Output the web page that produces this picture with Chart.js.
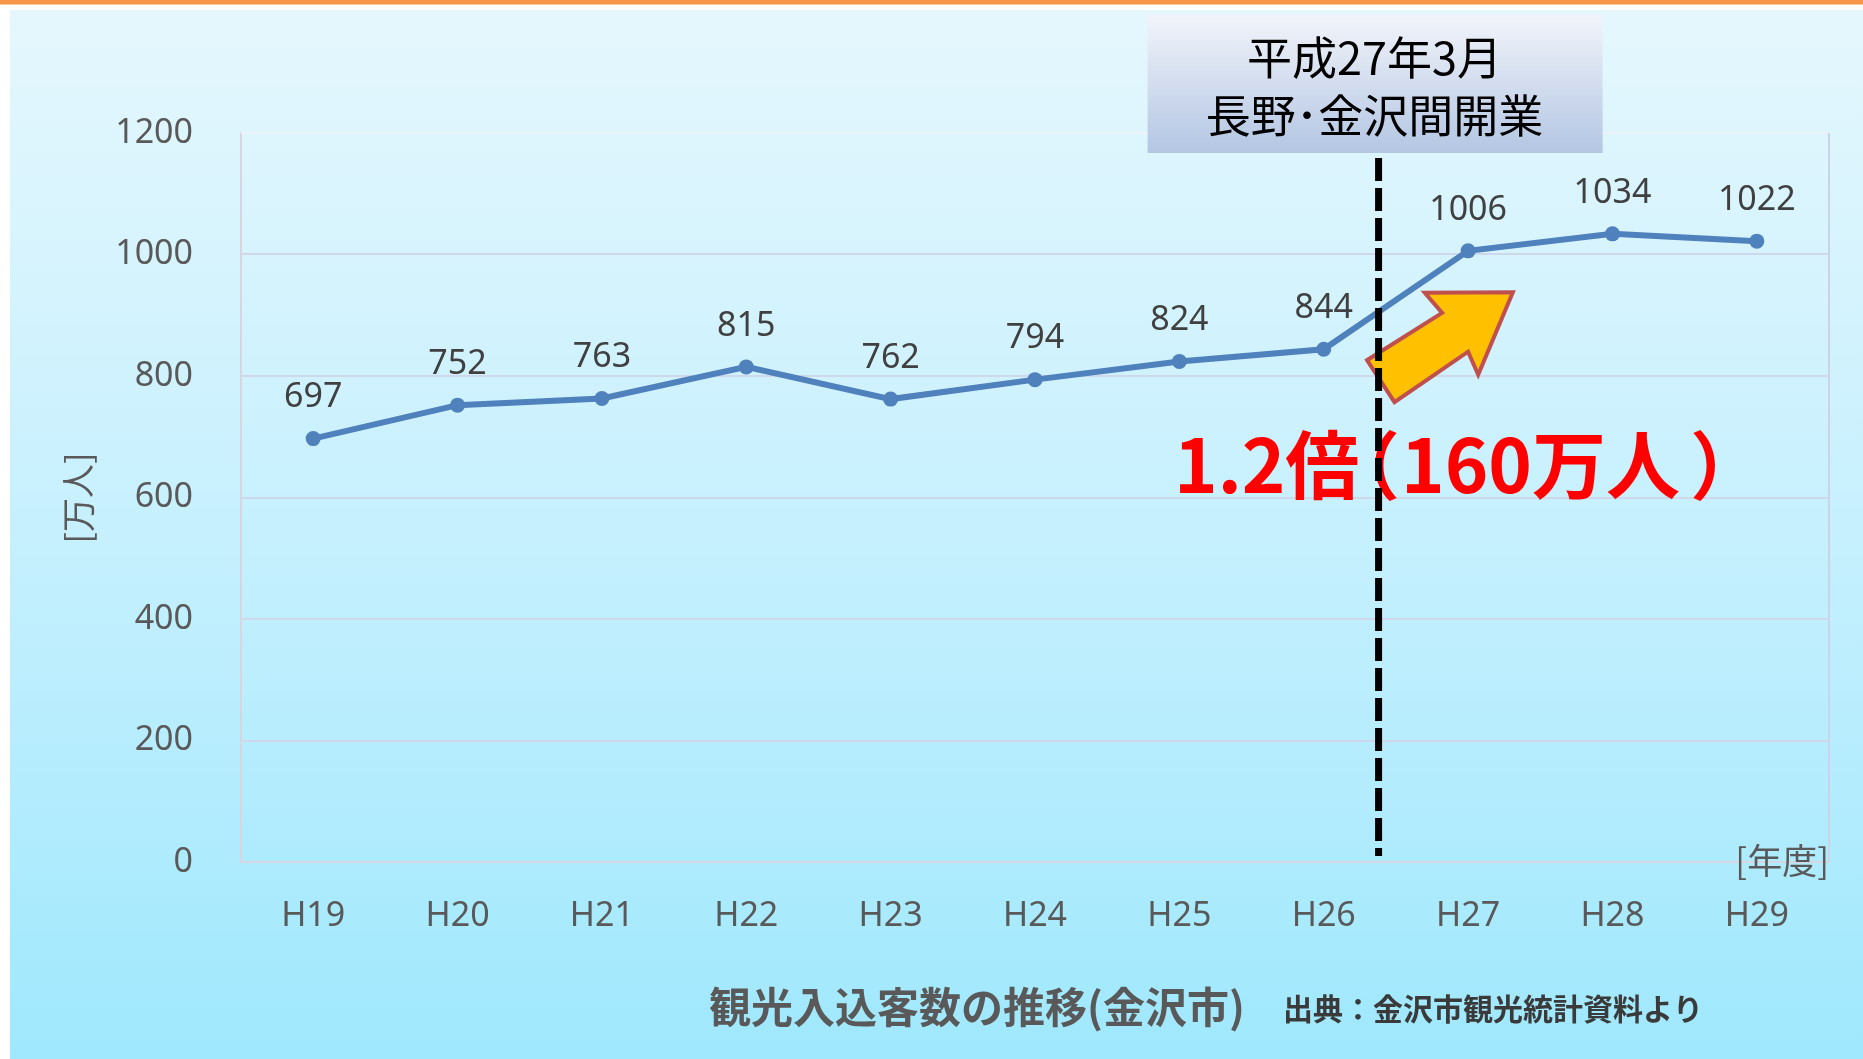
<!DOCTYPE html>
<html lang="ja">
<head>
<meta charset="utf-8">
<title>観光入込客数の推移（金沢市）</title>
<script src="https://cdn.jsdelivr.net/npm/chart.js@4.4.1/dist/chart.umd.min.js"></script>
<style>
    html, body { margin: 0; padding: 0; overflow: hidden; background: #fff; }
    .chart-wrap { position: relative; width: 1863px; height: 1059px; }
</style>
</head>
<body>
<div class="chart-wrap"><canvas id="visitorsChart"></canvas></div>
<script>
    // 年度 (x categories)
    const years = ['H19', 'H20', 'H21', 'H22', 'H23', 'H24', 'H25', 'H26', 'H27', 'H28', 'H29'];
    // 観光入込客数 [万人]
    const visitors = [697, 752, 763, 815, 762, 794, 824, 844, 1006, 1034, 1022];
    // y-axis ticks
    const yTicks = [0, 200, 400, 600, 800, 1000, 1200];

    const JP = "'Noto Sans CJK JP', 'Noto Sans', sans-serif";
    const LATIN = "'Noto Sans', 'Noto Sans CJK JP', sans-serif";

    // background panel: orange rule on top + light blue gradient
    const backgroundPlugin = {
        id: 'panelBackground',
        beforeDraw(chart) {
            const { ctx, width, height } = chart;
            ctx.save();
            ctx.fillStyle = '#ffffff';
            ctx.fillRect(0, 0, width, height);
            ctx.fillStyle = '#F79646';
            ctx.fillRect(0, 0, width, 4);
            ctx.fillStyle = '#FBC9A0';
            ctx.fillRect(0, 4, width, 1);
            const g = ctx.createLinearGradient(0, 10, 0, height);
            g.addColorStop(0, '#E5F7FD');
            g.addColorStop(0.5, '#C6F0FE');
            g.addColorStop(1, '#9FE8FD');
            ctx.fillStyle = g;
            ctx.fillRect(10, 10, width - 10, height - 10);
            ctx.restore();
        },
        beforeDatasetsDraw(chart) {
            const { ctx, chartArea: a } = chart;
            ctx.save();
            ctx.strokeStyle = 'rgba(240,244,250,0.9)';
            ctx.lineWidth = 2;
            ctx.beginPath();
            ctx.moveTo(a.left, a.top);
            ctx.lineTo(a.right, a.top);
            ctx.stroke();
            ctx.strokeStyle = '#CBD3E6';
            ctx.beginPath();
            ctx.moveTo(a.right, a.top);
            ctx.lineTo(a.right, a.bottom);
            ctx.stroke();
            ctx.restore();
        }
    };

    // draw text so that its ink starts at x (not its advance box)
    function inkText(ctx, str, x, y) {
        const m = ctx.measureText(str);
        ctx.fillText(str, x + m.actualBoundingBoxLeft, y);
    }

    // labels, arrow, dashed marker, callout box and captions
    const annotationPlugin = {
        id: 'annotations',
        afterDatasetsDraw(chart) {
            const { ctx, chartArea: a } = chart;
            const xs = chart.scales.x, ys = chart.scales.y;
            const meta = chart.getDatasetMeta(0);

            ctx.save();

            // value labels above points
            ctx.fillStyle = '#404040';
            ctx.font = `34px ${LATIN}`;
            ctx.textAlign = 'center';
            ctx.textBaseline = 'middle';
            meta.data.forEach((pt, i) => {
                ctx.fillText(String(visitors[i]), pt.x, pt.y - 41);
            });

            // block arrow (index, value) pairs
            const arrow = [[7.49, 757], [7.30, 826], [7.82, 904], [7.70, 937], [8.31, 938], [8.07, 802], [8.00, 840]];
            ctx.beginPath();
            arrow.forEach(([i, v], k) => {
                const px = xs.getPixelForValue(i), py = ys.getPixelForValue(v);
                k === 0 ? ctx.moveTo(px, py) : ctx.lineTo(px, py);
            });
            ctx.closePath();
            ctx.fillStyle = '#FFC000';
            ctx.fill();
            ctx.lineWidth = 4;
            ctx.lineJoin = 'miter';
            ctx.strokeStyle = '#C0504D';
            ctx.stroke();

            // 1.2倍 caption, laid out piece by piece to match the tight spacing
            ctx.fillStyle = '#FF0000';
            ctx.font = `bold 74px ${JP}`;
            ctx.textAlign = 'left';
            ctx.textBaseline = 'alphabetic';
            inkText(ctx, '1.2倍', 1180, 493);
            inkText(ctx, '（', 1375, 493);
            inkText(ctx, '160万人', 1407, 493);
            inkText(ctx, '）', 1693, 493);

            // dashed marker between H26 and H27
            const mx = xs.getPixelForValue(7.38);
            ctx.beginPath();
            ctx.setLineDash([23, 7]);
            ctx.lineWidth = 7;
            ctx.strokeStyle = '#000000';
            ctx.moveTo(mx, 158);
            ctx.lineTo(mx, a.bottom - 6);
            ctx.stroke();
            ctx.setLineDash([]);

            // callout box
            const bx = mx - 231, bw = 455, by = 15, bh = 138;
            const bg = ctx.createLinearGradient(0, by, 0, by + bh);
            bg.addColorStop(0, '#F2F4FA');
            bg.addColorStop(1, '#B3C6E3');
            ctx.fillStyle = bg;
            ctx.fillRect(bx, by, bw, bh);
            ctx.fillStyle = '#000000';
            ctx.font = `45px ${JP}`;
            ctx.textAlign = 'center';
            ctx.textBaseline = 'middle';
            ctx.fillText('平成27年3月', mx - 4, 58);
            ctx.fillText('長野･金沢間開業', mx - 4, 116);

            // axis captions
            ctx.fillStyle = '#595959';
            ctx.font = `35px ${JP}`;
            ctx.textAlign = 'right';
            ctx.fillText('[年度]', a.right, a.bottom - 1);

            ctx.save();
            ctx.translate(78, 498);
            ctx.rotate(-Math.PI / 2);
            ctx.textAlign = 'center';
            ctx.font = `34px ${JP}`;
            ctx.fillText('[万人]', 0, 0);
            ctx.restore();

            // bottom title and source
            ctx.textAlign = 'left';
            ctx.fillStyle = '#595959';
            ctx.font = `bold 42px ${JP}`;
            ctx.fillText('観光入込客数の推移(金沢市)', 709, 1007);
            ctx.fillStyle = '#3A3A3A';
            ctx.font = `bold 30px ${JP}`;
            ctx.fillText('出典：金沢市観光統計資料より', 1283, 1009);

            ctx.restore();
        }
    };

    const ctx = document.getElementById('visitorsChart');
    new Chart(ctx, {
        type: 'line',
        data: {
            labels: years,
            datasets: [{
                label: '観光入込客数',
                data: visitors,
                borderColor: '#4F81BD',
                backgroundColor: '#4F81BD',
                borderWidth: 6,
                pointRadius: 7.5,
                pointHoverRadius: 7.5,
                pointBackgroundColor: '#4F81BD',
                pointBorderWidth: 0,
                tension: 0
            }]
        },
        options: {
            responsive: true,
            maintainAspectRatio: false,
            animation: false,
            layout: { padding: { left: 0, right: 34, top: 133, bottom: 0 } },
            plugins: {
                legend: { display: false },
                tooltip: { enabled: false }
            },
            scales: {
                x: {
                    offset: true,
                    grid: { display: false, drawTicks: false },
                    border: { display: true, color: '#D6D6E0', width: 2 },
                    ticks: { color: '#595959', font: { size: 34, family: LATIN }, padding: 34 },
                    afterFit(s) { s.height = 197; }
                },
                y: {
                    min: 0,
                    max: 1200,
                    afterBuildTicks(s) { s.ticks = yTicks.map(v => ({ value: v })); },
                    grid: { color: '#CFD7EA', lineWidth: 2, drawTicks: false },
                    border: { display: true, color: '#D6D6E0', width: 2 },
                    ticks: { color: '#595959', font: { size: 34, family: LATIN }, padding: 48, callback: v => String(v) },
                    afterFit(s) { s.width = 241; }
                }
            }
        },
        plugins: [backgroundPlugin, annotationPlugin]
    });
</script>
</body>
</html>
